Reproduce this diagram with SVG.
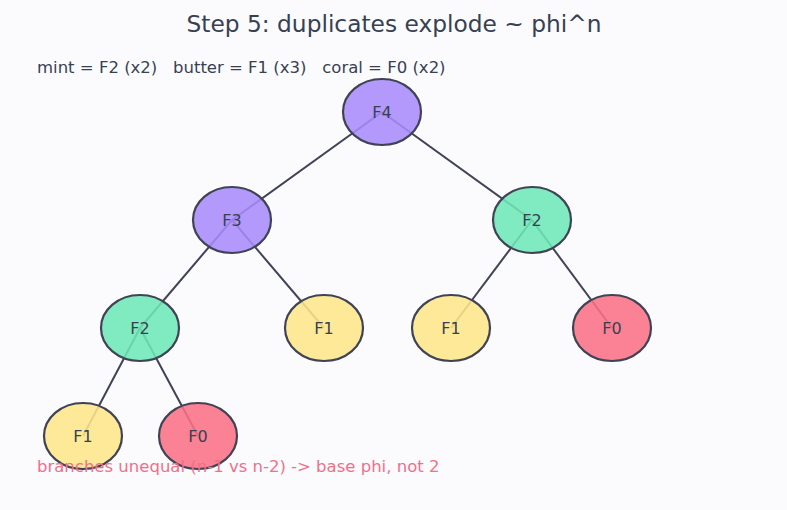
<svg xmlns="http://www.w3.org/2000/svg" width="787" height="510" viewBox="0 0 787 510">
<style>
text{font-family:"DejaVu Sans",sans-serif;fill:#374151}
.n ellipse{stroke:#3f4354;stroke-width:2.2;fill-opacity:0.88}
.n text{font-size:16px;text-anchor:middle;dominant-baseline:central}
.c line{stroke:#3f4354;stroke-width:2}
.p{fill:#a78bfa}.m{fill:#6ee7b7}.b{fill:#fde68a}.r{fill:#fb7185}
</style>
<rect width="787" height="510" fill="#fbfbfe"/>
<text x="394" y="32" font-size="23.3" text-anchor="middle">Step 5: duplicates explode ~ phi^n</text>
<text x="37" y="73" font-size="16.5" xml:space="preserve" style="white-space:pre">mint = F2 (x2)   butter = F1 (x3)   coral = F0 (x2)</text>
<g class="c">
<line x1="382" y1="112" x2="232" y2="220"/>
<line x1="382" y1="112" x2="532" y2="220"/>
<line x1="232" y1="220" x2="140" y2="328"/>
<line x1="232" y1="220" x2="324" y2="328"/>
<line x1="532" y1="220" x2="451" y2="328"/>
<line x1="532" y1="220" x2="612" y2="328"/>
<line x1="140" y1="328" x2="83" y2="436"/>
<line x1="140" y1="328" x2="198" y2="436"/>
</g>
<g class="n" id="f4"><ellipse class="p" cx="382" cy="112" rx="39" ry="33"/><text x="382" y="112">F4</text></g>
<g class="n" id="f3"><ellipse class="p" cx="232" cy="220" rx="39" ry="33"/><text x="232" y="220">F3</text></g>
<g class="n" id="f2r"><ellipse class="m" cx="532" cy="220" rx="39" ry="33"/><text x="532" y="220">F2</text></g>
<g class="n" id="f2l"><ellipse class="m" cx="140" cy="328" rx="39" ry="33"/><text x="140" y="328">F2</text></g>
<g class="n" id="f1a"><ellipse class="b" cx="324" cy="328" rx="39" ry="33"/><text x="324" y="328">F1</text></g>
<g class="n" id="f1b"><ellipse class="b" cx="451" cy="328" rx="39" ry="33"/><text x="451" y="328">F1</text></g>
<g class="n" id="f0a"><ellipse class="r" cx="612" cy="328" rx="39" ry="33"/><text x="612" y="328">F0</text></g>
<g class="n" id="f1c"><ellipse class="b" cx="83" cy="436" rx="39" ry="33"/><text x="83" y="436">F1</text></g>
<g class="n" id="f0b"><ellipse class="r" cx="198" cy="436" rx="39" ry="33"/><text x="198" y="436">F0</text></g>
<text x="37" y="472" font-size="16.5" style="fill:#f07088">branches unequal (n-1 vs n-2) -&gt; base phi, not 2</text>
</svg>
